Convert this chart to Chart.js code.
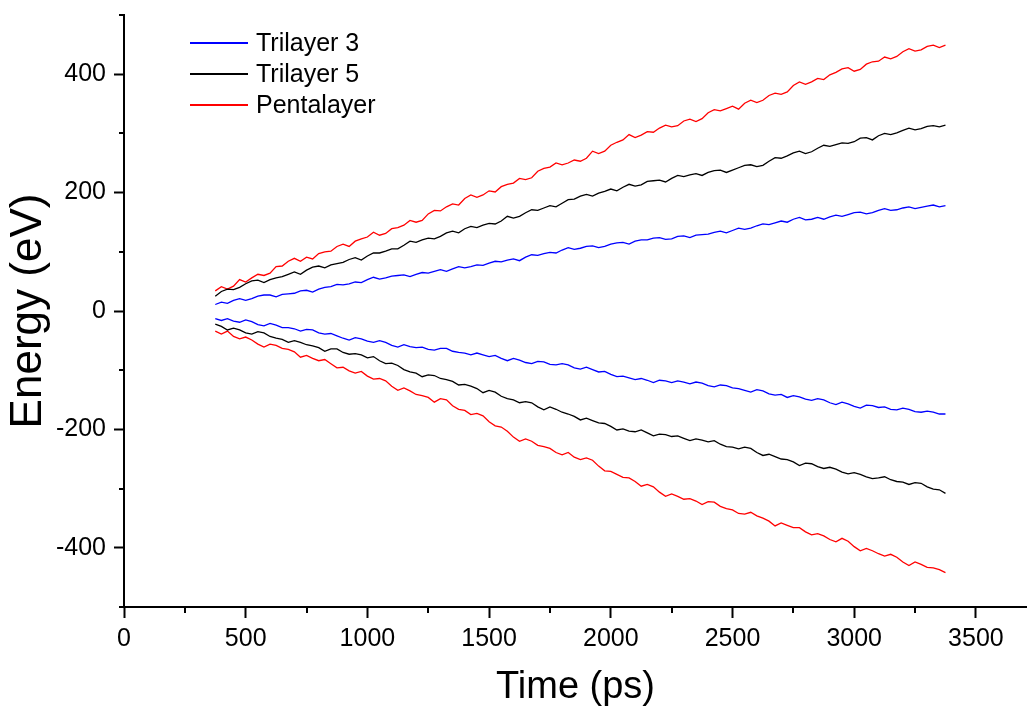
<!DOCTYPE html>
<html lang="en">
<head>
    <meta charset="UTF-8" />
    <title>Energy vs Time</title>
    <script src="https://cdn.jsdelivr.net/npm/chart.js"></script>
    <style>
        body { margin: 0; background: #fff; }
        canvas { display: block; }
    </style>
</head>
<body>
    <canvas id="energyChart" width="1027" height="707"></canvas>

    <script>
        // time axis (ps)
        const times = [375, 400, 425, 450, 475, 500, 525, 550, 575, 600,
            625, 650, 675, 700, 725, 750, 775, 800, 825, 850,
            875, 900, 925, 950, 975, 1000, 1025, 1050, 1075, 1100,
            1125, 1150, 1175, 1200, 1225, 1250, 1275, 1300, 1325, 1350,
            1375, 1400, 1425, 1450, 1475, 1500, 1525, 1550, 1575, 1600,
            1625, 1650, 1675, 1700, 1725, 1750, 1775, 1800, 1825, 1850,
            1875, 1900, 1925, 1950, 1975, 2000, 2025, 2050, 2075, 2100,
            2125, 2150, 2175, 2200, 2225, 2250, 2275, 2300, 2325, 2350,
            2375, 2400, 2425, 2450, 2475, 2500, 2525, 2550, 2575, 2600,
            2625, 2650, 2675, 2700, 2725, 2750, 2775, 2800, 2825, 2850,
            2875, 2900, 2925, 2950, 2975, 3000, 3025, 3050, 3075, 3100,
            3125, 3150, 3175, 3200, 3225, 3250, 3275, 3300, 3325, 3350, 3375];

        // energies (eV)
        const tri3Up = [11, 15, 13, 18, 21, 18, 21, 25, 27, 27,
            24, 28, 29, 30, 34, 35, 32, 37, 40, 41,
            45, 44, 46, 49, 48, 53, 57, 54, 56, 59,
            60, 61, 58, 62, 65, 64, 67, 70, 67, 71,
            75, 73, 75, 78, 77, 81, 84, 83, 86, 88,
            85, 91, 95, 94, 97, 99, 98, 103, 107, 104,
            106, 109, 110, 107, 109, 113, 115, 116, 113, 118,
            120, 120, 123, 124, 121, 122, 126, 127, 124, 128,
            129, 130, 133, 135, 132, 136, 140, 138, 140, 144,
            147, 146, 149, 152, 150, 155, 158, 154, 155, 158,
            155, 159, 162, 160, 163, 166, 167, 164, 166, 170,
            173, 170, 171, 174, 176, 173, 175, 177, 179, 176, 178];
        const tri3Down = [-13, -16, -13, -17, -19, -15, -18, -23, -25, -21,
            -24, -28, -28, -30, -34, -31, -32, -37, -39, -38,
            -42, -46, -49, -45, -47, -51, -53, -50, -53, -58,
            -61, -57, -60, -62, -61, -65, -66, -63, -63, -68,
            -70, -71, -74, -71, -74, -77, -75, -80, -84, -80,
            -83, -87, -89, -85, -86, -90, -91, -89, -91, -96,
            -98, -95, -99, -103, -102, -107, -111, -110, -113, -116,
            -114, -117, -121, -117, -118, -121, -118, -120, -123, -120,
            -122, -126, -128, -125, -126, -130, -131, -134, -137, -133,
            -135, -140, -142, -141, -146, -143, -145, -149, -151, -148,
            -150, -155, -158, -154, -157, -161, -164, -159, -160, -163,
            -162, -166, -167, -164, -166, -170, -171, -169, -171, -174, -174];
        const tri5Up = [25, 33, 37, 36, 40, 46, 51, 52, 48, 53,
            56, 58, 62, 66, 62, 69, 74, 76, 73, 78,
            80, 82, 87, 90, 86, 93, 98, 98, 101, 105,
            105, 111, 118, 116, 120, 123, 122, 126, 132, 135,
            132, 139, 143, 141, 145, 148, 147, 152, 160, 157,
            160, 166, 171, 170, 174, 178, 176, 182, 188, 189,
            194, 197, 194, 199, 202, 206, 203, 209, 214, 211,
            213, 219, 220, 221, 218, 224, 229, 227, 230, 232,
            229, 234, 237, 238, 234, 238, 242, 246, 247, 244,
            246, 253, 259, 258, 262, 267, 270, 266, 269, 275,
            280, 278, 281, 284, 283, 286, 292, 293, 289, 296,
            300, 298, 301, 305, 309, 306, 308, 312, 313, 311, 314];
        const tri5Down = [-22, -26, -32, -29, -32, -37, -39, -35, -37, -43,
            -46, -48, -53, -50, -53, -57, -59, -62, -68, -64,
            -64, -70, -73, -72, -74, -79, -77, -84, -89, -88,
            -92, -99, -103, -105, -111, -108, -109, -114, -116, -119,
            -125, -124, -127, -131, -138, -134, -137, -144, -148, -150,
            -155, -153, -155, -162, -167, -162, -166, -171, -174, -178,
            -184, -181, -185, -189, -190, -195, -201, -199, -203, -204,
            -201, -206, -211, -208, -209, -212, -211, -215, -219, -216,
            -218, -221, -219, -225, -229, -230, -233, -230, -232, -239,
            -244, -242, -246, -250, -251, -255, -261, -257, -258, -263,
            -266, -264, -267, -272, -275, -273, -276, -280, -283, -282,
            -280, -285, -288, -289, -293, -290, -291, -297, -301, -302, -308];
        const pentaUp = [34, 41, 37, 42, 53, 49, 56, 62, 60, 64,
            75, 76, 84, 89, 84, 91, 88, 97, 100, 101,
            109, 113, 109, 118, 122, 125, 133, 128, 131, 139,
            141, 145, 153, 150, 153, 164, 170, 169, 176, 181,
            179, 190, 196, 192, 196, 203, 201, 210, 214, 216,
            224, 222, 225, 236, 241, 243, 250, 247, 250, 255,
            253, 258, 270, 266, 270, 280, 285, 289, 298, 293,
            297, 303, 302, 309, 314, 311, 313, 321, 324, 320,
            325, 335, 340, 338, 342, 346, 341, 351, 356, 352,
            356, 364, 368, 366, 370, 381, 387, 383, 387, 393,
            391, 399, 403, 409, 411, 405, 408, 417, 421, 422,
            429, 426, 430, 438, 443, 439, 441, 447, 449, 445, 449];
        const pentaDown = [-34, -39, -34, -43, -47, -44, -49, -56, -61, -56,
            -58, -63, -65, -69, -78, -75, -80, -84, -82, -89,
            -96, -95, -101, -105, -102, -110, -115, -114, -118, -127,
            -134, -130, -135, -141, -143, -146, -154, -148, -150, -160,
            -166, -168, -175, -173, -177, -187, -194, -196, -203, -213,
            -220, -216, -220, -227, -229, -232, -239, -243, -239, -247,
            -251, -248, -252, -262, -270, -271, -276, -281, -282, -288,
            -296, -293, -297, -306, -313, -309, -313, -318, -317, -321,
            -327, -322, -323, -330, -334, -336, -342, -343, -340, -346,
            -350, -355, -363, -358, -362, -366, -366, -373, -378, -376,
            -380, -386, -390, -384, -389, -398, -405, -401, -405, -410,
            -414, -411, -416, -424, -430, -424, -428, -433, -434, -437, -442];

        const seriesNames = ['Trilayer 3', 'Trilayer 5', 'Pentalayer'];
        const seriesColors = ['#0000ff', '#000000', '#ff0000'];

        // tick positions
        const xMajor = [0, 500, 1000, 1500, 2000, 2500, 3000, 3500];
        const xMinor = [250, 750, 1250, 1750, 2250, 2750, 3250];
        const yMajor = [-400, -200, 0, 200, 400];
        const yMinor = [-500, -300, -100, 100, 300, 500];

        const FONT = "'Liberation Sans', Arial, sans-serif";

        function pts(vals) {
            return vals.map((v, i) => ({ x: times[i], y: v }));
        }

        function line(label, vals, color, showInLegend) {
            return {
                label: label,
                data: pts(vals),
                borderColor: color,
                backgroundColor: color,
                borderWidth: 1.3,
                pointRadius: 0,
                tension: 0,
                inLegend: showInLegend
            };
        }

        // minor ticks + legend drawn by hand
        const extras = {
            id: 'extras',
            afterDraw(chart) {
                const c = chart.ctx;
                const xs = chart.scales.x, ys = chart.scales.y;
                c.save();
                c.strokeStyle = '#000';
                c.lineWidth = 2;
                c.beginPath();
                yMinor.forEach(v => {
                    const py = Math.round(ys.getPixelForValue(v));
                    c.moveTo(ys.right - 5, py);
                    c.lineTo(ys.right, py);
                });
                xMinor.forEach(v => {
                    const px = Math.round(xs.getPixelForValue(v));
                    c.moveTo(px, xs.top);
                    c.lineTo(px, xs.top + 6);
                });
                c.stroke();

                // legend
                const area = chart.chartArea;
                let y = Math.round(area.top + 27);
                c.font = '25px ' + FONT;
                c.textBaseline = 'middle';
                chart.data.datasets.filter(d => d.inLegend).forEach(d => {
                    c.fillStyle = d.borderColor;
                    c.fillRect(Math.round(area.left + 66), y, 58, 2);
                    c.fillStyle = '#000';
                    c.fillText(d.label, area.left + 132, y + 2);
                    y += 31;
                });
                c.restore();
            }
        };

        const ctx = document.getElementById('energyChart').getContext('2d');

        new Chart(ctx, {
            type: 'line',
            data: {
                datasets: [
                    line(seriesNames[0], tri3Up, seriesColors[0], true),
                    line(seriesNames[1], tri5Up, seriesColors[1], true),
                    line(seriesNames[2], pentaUp, seriesColors[2], true),
                    line(seriesNames[0], tri3Down, seriesColors[0], false),
                    line(seriesNames[1], tri5Down, seriesColors[1], false),
                    line(seriesNames[2], pentaDown, seriesColors[2], false)
                ]
            },
            options: {
                responsive: false,
                animation: false,
                layout: { padding: { top: 15, right: 0, left: 0, bottom: 0 } },
                plugins: {
                    legend: { display: false },
                    tooltip: { enabled: false }
                },
                scales: {
                    x: {
                        type: 'linear',
                        min: 0,
                        max: 3710,
                        afterBuildTicks: s => { s.ticks = xMajor.map(v => ({ value: v })); },
                        afterFit: s => { s.height = 100; s.paddingRight = 0; },
                        ticks: {
                            autoSkip: false,
                            padding: 6,
                            color: '#000',
                            font: { size: 25, family: FONT },
                            maxRotation: 0,
                            callback: v => String(v)
                        },
                        grid: {
                            drawOnChartArea: false,
                            drawTicks: true,
                            tickLength: 11,
                            tickWidth: 2,
                            tickColor: '#000'
                        },
                        border: { display: true, color: '#000', width: 2 },
                        title: {
                            display: true,
                            text: 'Time (ps)',
                            color: '#000',
                            font: { size: 38, family: FONT, lineHeight: 1 },
                            padding: { top: 0, bottom: 0 }
                        }
                    },
                    y: {
                        min: -500,
                        max: 500,
                        afterBuildTicks: s => { s.ticks = yMajor.map(v => ({ value: v })); },
                        afterFit: s => { s.width = 124; s.paddingTop = 0; s.paddingBottom = 0; },
                        ticks: {
                            autoSkip: false,
                            padding: 8,
                            color: '#000',
                            font: { size: 25, family: FONT },
                            callback: v => String(v)
                        },
                        grid: {
                            drawOnChartArea: false,
                            drawTicks: true,
                            tickLength: 10,
                            tickWidth: 2,
                            tickColor: '#000'
                        },
                        border: { display: true, color: '#000', width: 2 },
                        title: {
                            display: true,
                            text: 'Energy (eV)',
                            color: '#000',
                            font: { size: 44, family: FONT },
                            padding: { top: 2, bottom: 0 }
                        }
                    }
                }
            },
            plugins: [extras]
        });
    </script>
</body>
</html>
